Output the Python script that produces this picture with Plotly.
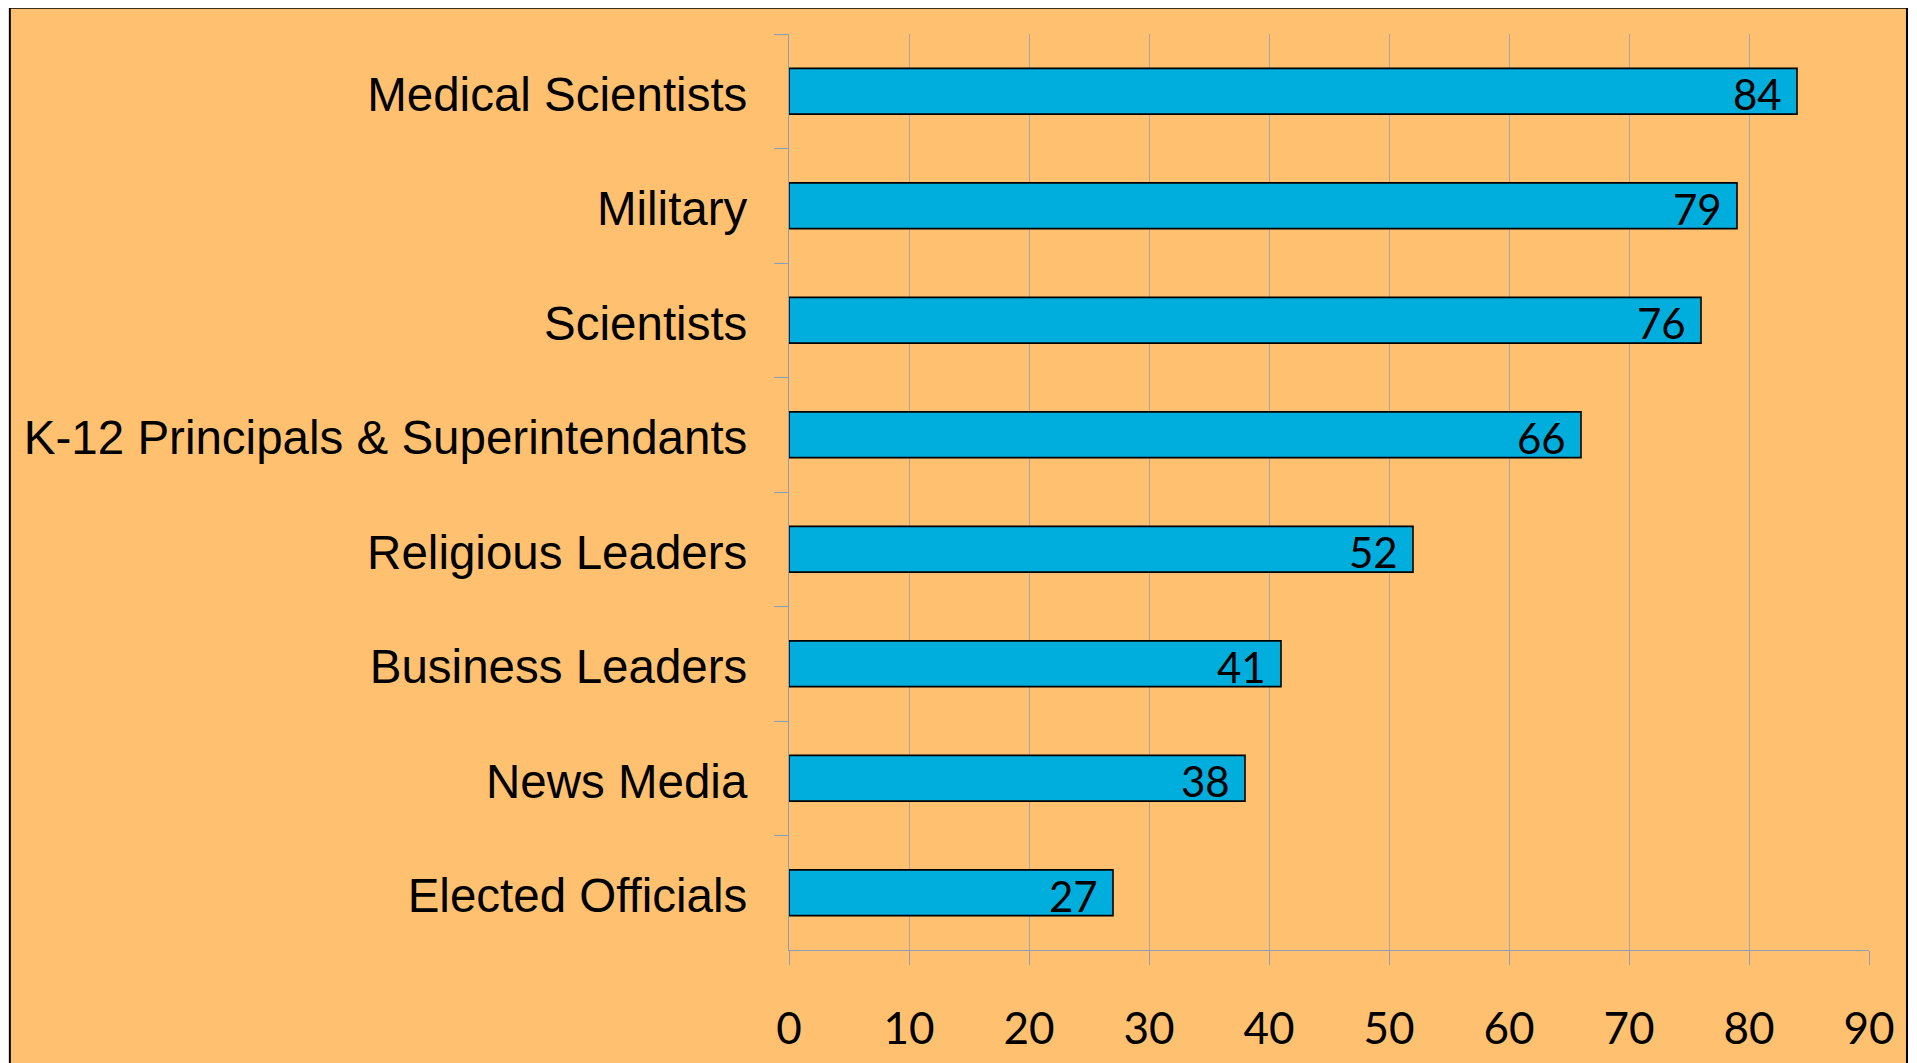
import plotly.graph_objects as go

categories = [
    "Medical Scientists",
    "Military",
    "Scientists",
    "K-12 Principals & Superintendants",
    "Religious Leaders",
    "Business Leaders",
    "News Media",
    "Elected Officials",
]
values = [84, 79, 76, 66, 52, 41, 38, 27]
x_ticks = [0, 10, 20, 30, 40, 50, 60, 70, 80, 90]

# page body has an 8px margin; figure coords = screen - 8
W, H = 1901, 1063
L, T = 780.5, 26.3
R = W - 1861
B = H - 942.3
pw, ph = W - L - R, H - T - B

fig = go.Figure()
fig.add_trace(go.Bar(
    x=values, y=categories, orientation="h",
    width=0.4,
    marker=dict(color="#00AEDE", line=dict(color="black", width=1.6)),
    hoverinfo="x+y",
))

for c, v in zip(categories, values):
    fig.add_annotation(
        x=v, y=c, xref="x", yref="y", text=str(v), showarrow=False,
        xanchor="right", yanchor="middle", xshift=-13, yshift=-3,
        font=dict(family="Lato", size=42, color="black"),
    )

def px_to_paper_x(px):
    return (px - L) / pw

def py_to_paper_y(py):
    return (H - B - py) / ph

fig.add_shape(
    type="rect", xref="paper", yref="paper", layer="below",
    x0=px_to_paper_x(1), x1=px_to_paper_x(1899),
    y0=py_to_paper_y(1100), y1=py_to_paper_y(0),
    fillcolor="#FFC170", line=dict(color="black", width=2),
)

fig.update_layout(
    width=W, height=H,
    margin=dict(l=L, r=R, t=T, b=B, pad=0, autoexpand=False),
    paper_bgcolor="white",
    plot_bgcolor="rgba(0,0,0,0)",
    showlegend=False,
    bargap=0.6,
)
fig.update_xaxes(
    range=[0, 90], tickvals=x_ticks, ticktext=[str(t) for t in x_ticks],
    showgrid=True, gridcolor="#A6A6A6", gridwidth=1,
    showline=True, linecolor="#8C9FBA", linewidth=1.3,
    ticks="outside", ticklen=14, tickcolor="#8C9FBA", tickwidth=1.3,
    zeroline=False, ticklabelstandoff=26, automargin=False,
    tickfont=dict(family="Lato", size=44, color="black"),
    fixedrange=True,
)
fig.update_yaxes(
    categoryorder="array", categoryarray=categories, autorange="reversed",
    showgrid=False, showline=True, linecolor="#8C9FBA", linewidth=1.3,
    ticks="outside", ticklen=14, tickcolor="#8C9FBA", tickwidth=1.3,
    tickson="boundaries", ticklabelstandoff=31, ticklabelshift=-3,
    automargin=False,
    tickfont=dict(family="Liberation Sans", size=47.5, color="black"),
    fixedrange=True,
)

fig.write_html("out.html", config=dict(displayModeBar=False))
